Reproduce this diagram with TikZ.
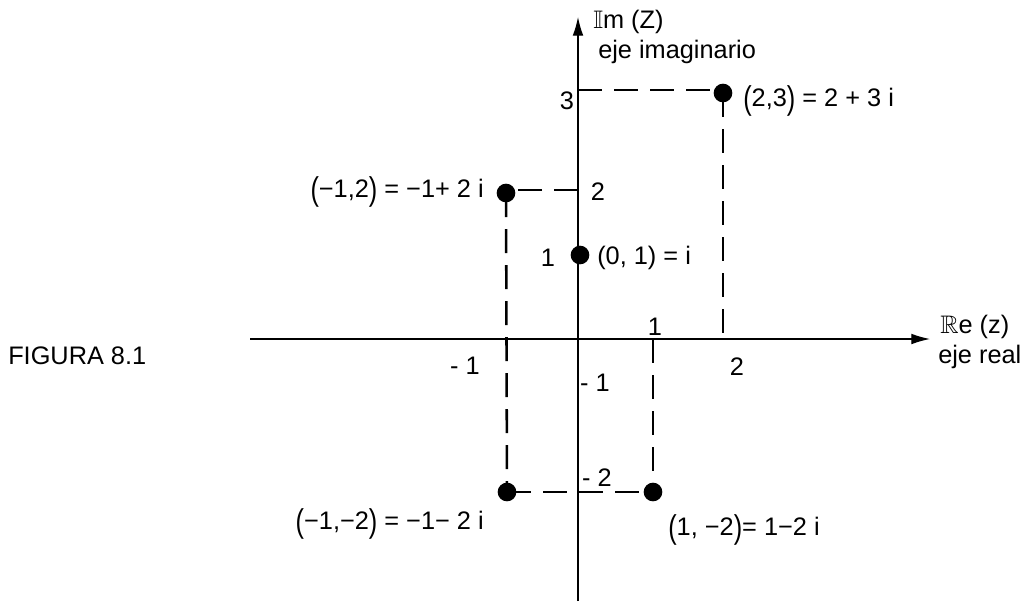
\documentclass[tikz,border=0pt]{standalone}
\usepackage{amssymb}
\usepackage{graphicx}
\usepackage{fontspec}
\setmainfont{Liberation Sans}
\usetikzlibrary{arrows.meta}
\newcommand{\lp}{\raisebox{-0.12em}{\scalebox{1}[1.3]{(}}}
\newcommand{\rp}{\raisebox{-0.12em}{\scalebox{1}[1.3]{)}}}
\begin{document}
\begin{tikzpicture}[x=0.75pt,y=-0.75pt,
  every node/.style={font=\fontsize{19}{22}\selectfont, inner sep=0pt},
  axis/.style={line width=0.9pt, -{Latex[length=14pt,width=8pt]}},
  guide/.style={line width=1.9pt, dash pattern=on 18pt off 9pt},
  dot/.style={circle, fill=black, minimum size=14pt, inner sep=0pt},
  lab/.style={anchor=west},
  labr/.style={anchor=east}]
\useasboundingbox (0,0) rectangle (1024,601);
% axes
\coordinate (O) at (578,339);
\coordinate (xs) at (250,339);
\coordinate (xe) at (930,339);
\coordinate (ys) at (578,601);
\coordinate (ye) at (578,17);
\draw[axis] (xs) -- (xe);
\draw[axis] (ys) -- (ye);
% points
\node[dot] (p23) at (723,93) {};
\node[dot] (pm12) at (506,193) {};
\node[dot] (p01) at (580,255) {};
\node[dot] (pm1m2) at (507,492) {};
\node[dot] (p1m2) at (653,492) {};
% guide coordinates
\coordinate (y3) at (578,90);
\coordinate (y2) at (578,190);
\coordinate (x2) at (723,333);
\coordinate (x1) at (653,339);
% dashed guides
\draw[guide] (y3) -- (p23.center |- y3);
\draw[guide] (p23.center) -- (x2);
\draw[guide] (y2) -- (pm12.center |- y2);
\draw[guide] (pm12.center) -- (pm1m2.center);
\draw[guide] (x1) -- (p1m2.center);
\draw[guide] (pm1m2.center) -- (p1m2.center);
% axis titles
\node[lab] (imt) at (593,22) {$\mathbb{I}$m (Z)};
\node[lab] (imt2) at (598,52) {eje imaginario};
\node[lab] (ret) at (940,327) {$\mathbb{R}$e (z)};
\node[lab] (ret2) at (938,357) {eje real};
\node[lab] (fig) at (8,356) {FIGURA 8.1};
% tick labels
\node (t3) at (567,101) {3};
\node (t2) at (598,192) {2};
\node (t1) at (548,258) {1};
\node (tx1) at (655,327) {1};
\node (txm1) at (465,366) {- 1};
\node (tx2) at (737,367) {2};
\node (tym1) at (595,383) {- 1};
\node (tym2) at (597,478) {- 2};
% point labels
\node[lab] (l23) at (743,101) {\lp2,3\rp\ = 2 + 3 i};
\node[labr] (lm12) at (484,192) {\lp−1,2\rp\ = −1+ 2 i};
\node[lab] (l01) at (597,258) {(0, 1) = i};
\node[labr] (lm1m2) at (484,524) {\lp−1,−2\rp\ = −1− 2 i};
\node[lab] (l1m2) at (668,530) {\lp1, −2\rp= 1−2 i};
\end{tikzpicture}
\end{document}
